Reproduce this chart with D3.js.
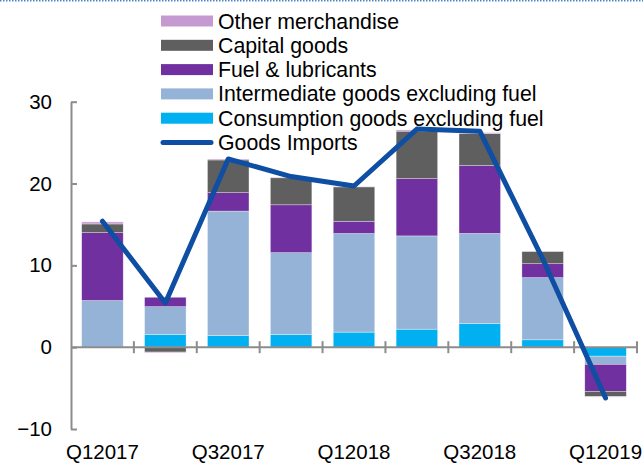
<!DOCTYPE html>
<html>
<head>
<meta charset="utf-8">
<script src="https://cdn.jsdelivr.net/npm/d3@7"></script>
<style>
  body { margin:0; background:#fff; }
  svg { display:block; font-family:"Liberation Sans", Arial, sans-serif; }
</style>
</head>
<body>
<div id="chart"></div>
<script>
var quarters = ["Q12017","Q22017","Q32017","Q42017","Q12018","Q22018","Q32018","Q42018","Q12019"]
var tickLabels = ["Q12017","Q32017","Q12018","Q32018","Q12019"]
var yTicks = [-10, 0, 10, 20, 30]

var consumption  = [0, 1.55, 1.43, 1.55, 1.84, 2.2, 2.9, 0.9, -1.1]
var intermediate = [5.7, 3.4, 15.2, 10.0, 12.05, 11.4, 11.0, 7.6, -1.0]
var fuel         = [8.3, 1.15, 2.25, 5.85, 1.5, 7.0, 8.3, 1.7, -3.3]
var capital      = [1.06, -0.6, 4.0, 3.3, 4.2, 5.8, 3.9, 1.5, -0.65]
var other        = [0.25, -0.1, 0.12, 0.08, 0.05, 0.15, 0.12, 0.05, -0.05]
var goodsImports = [15.4, 5.4, 23.0, 20.85, 19.7, 26.65, 26.4, 10.8, -6.2]

var seriesNames = ["Consumption goods excluding fuel","Intermediate goods excluding fuel","Fuel & lubricants","Capital goods","Other merchandise"]
var seriesValues = [consumption, intermediate, fuel, capital, other]
var colors = ["#00b0f0","#95b3d7","#7030a0","#5f5f5f","#c59ad0"]
var lineColor = "#0e4ea3"

initChart()
function initChart(){
  var width = 643
  var height = 463
  var margin = {left:71, right:6, top:101.7, bottom:34}

  var svg = d3.select("#chart").append("svg")
    .attr("width", width)
    .attr("height", height)

  // dotted frame line at top
  svg.append("line")
    .attr("x1",0).attr("x2",width).attr("y1",0.75).attr("y2",0.75)
    .attr("stroke","#4f83c4").attr("stroke-width",1.5).attr("stroke-dasharray","1.5,1.5")

  var y = d3.scaleLinear()
    .domain([-10, 30])
    .range([429, margin.top])

  var x = d3.scaleBand()
    .domain(quarters)
    .range([margin.left, 637])
    .paddingInner(0.34)
    .paddingOuter(0.17)

  var table = quarters.map(function(q,i){
    var row = {q:q}
    seriesNames.forEach(function(s,j){ row[s] = seriesValues[j][i] })
    return row
  })

  var stack = d3.stack().keys(seriesNames).offset(d3.stackOffsetDiverging)
  var layers = stack(table)

  svg.append("g").selectAll("g")
    .data(layers)
    .enter().append("g")
    .attr("fill", function(d,i){ return colors[i] })
    .selectAll("rect")
    .data(function(d){ return d })
    .enter().append("rect")
    .attr("x", function(d){ return x(d.data.q) })
    .attr("width", x.bandwidth())
    .attr("y", function(d){ return y(Math.max(d[0],d[1])) })
    .attr("height", function(d){ return Math.abs(y(d[0]) - y(d[1])) })
    .attr("stroke","#ffffff").attr("stroke-opacity",0.55).attr("stroke-width",0.6)

  // y axis
  var yAxis = svg.append("g")
    .attr("transform","translate("+margin.left+",0)")
    .call(d3.axisLeft(y).tickValues(yTicks).tickSizeInner(-6).tickSizeOuter(0).tickPadding(19))
  yAxis.select(".domain").attr("stroke","#8c8c8c").attr("stroke-width",2)
  yAxis.selectAll(".tick line").attr("stroke","#8c8c8c").attr("stroke-width",2)
  yAxis.selectAll("text").attr("font-size",20.5).attr("fill","#000")
    .attr("font-family","'Liberation Sans', Arial, sans-serif")

  // x axis at zero
  var y0 = y(0)
  var gap = (x.step() - x.bandwidth())/2
  var bounds = quarters.map(function(q){ return x(q) - gap })
  bounds.push(x(quarters[quarters.length-1]) + x.bandwidth() + gap)

  var xg = svg.append("g")
  xg.append("line")
    .attr("x1",margin.left).attr("x2",bounds[bounds.length-1])
    .attr("y1",y0).attr("y2",y0)
    .attr("stroke","#8c8c8c").attr("stroke-width",2)
  xg.selectAll(".xtick")
    .data(bounds.slice(1))
    .enter().append("line")
    .attr("class","xtick")
    .attr("x1",function(d){ return d }).attr("x2",function(d){ return d })
    .attr("y1",y0-6).attr("y2",y0+6)
    .attr("stroke","#8c8c8c").attr("stroke-width",2)

  svg.append("g").selectAll("text")
    .data(tickLabels)
    .enter().append("text")
    .attr("x",function(d){ return x(d) + x.bandwidth()/2 })
    .attr("y",459)
    .attr("text-anchor","middle")
    .attr("font-size",20.5)
    .attr("fill","#000")
    .text(function(d){ return d })

  // goods imports line
  var line = d3.line()
    .x(function(d,i){ return x(quarters[i]) + x.bandwidth()/2 })
    .y(function(d){ return y(d) })

  svg.append("path")
    .datum(goodsImports)
    .attr("d", line)
    .attr("fill","none")
    .attr("stroke", lineColor)
    .attr("stroke-width",5)
    .attr("stroke-linejoin","round")
    .attr("stroke-linecap","round")

  // legend
  var legendItems = [
    {name:"Other merchandise", color:colors[4], type:"rect"},
    {name:"Capital goods", color:colors[3], type:"rect"},
    {name:"Fuel & lubricants", color:colors[2], type:"rect"},
    {name:"Intermediate goods excluding fuel", color:colors[1], type:"rect"},
    {name:"Consumption goods excluding fuel", color:colors[0], type:"rect"},
    {name:"Goods Imports", color:lineColor, type:"line"}
  ]

  var legend = svg.append("g").selectAll("g")
    .data(legendItems)
    .enter().append("g")
    .attr("transform",function(d,i){ return "translate(161,"+(21+i*24.3)+")" })

  legend.filter(function(d){ return d.type=="rect" })
    .append("rect")
    .attr("x",0).attr("y",-5.5)
    .attr("width",52).attr("height",11)
    .attr("fill",function(d){ return d.color })

  legend.filter(function(d){ return d.type=="line" })
    .append("line")
    .attr("x1",2).attr("x2",50).attr("y1",0).attr("y2",0)
    .attr("stroke",function(d){ return d.color })
    .attr("stroke-width",5).attr("stroke-linecap","round")

  legend.append("text")
    .attr("x",57)
    .attr("y",7.5)
    .attr("font-size",21.3)
    .attr("fill","#000")
    .text(function(d){ return d.name })
}
</script>
</body>
</html>
